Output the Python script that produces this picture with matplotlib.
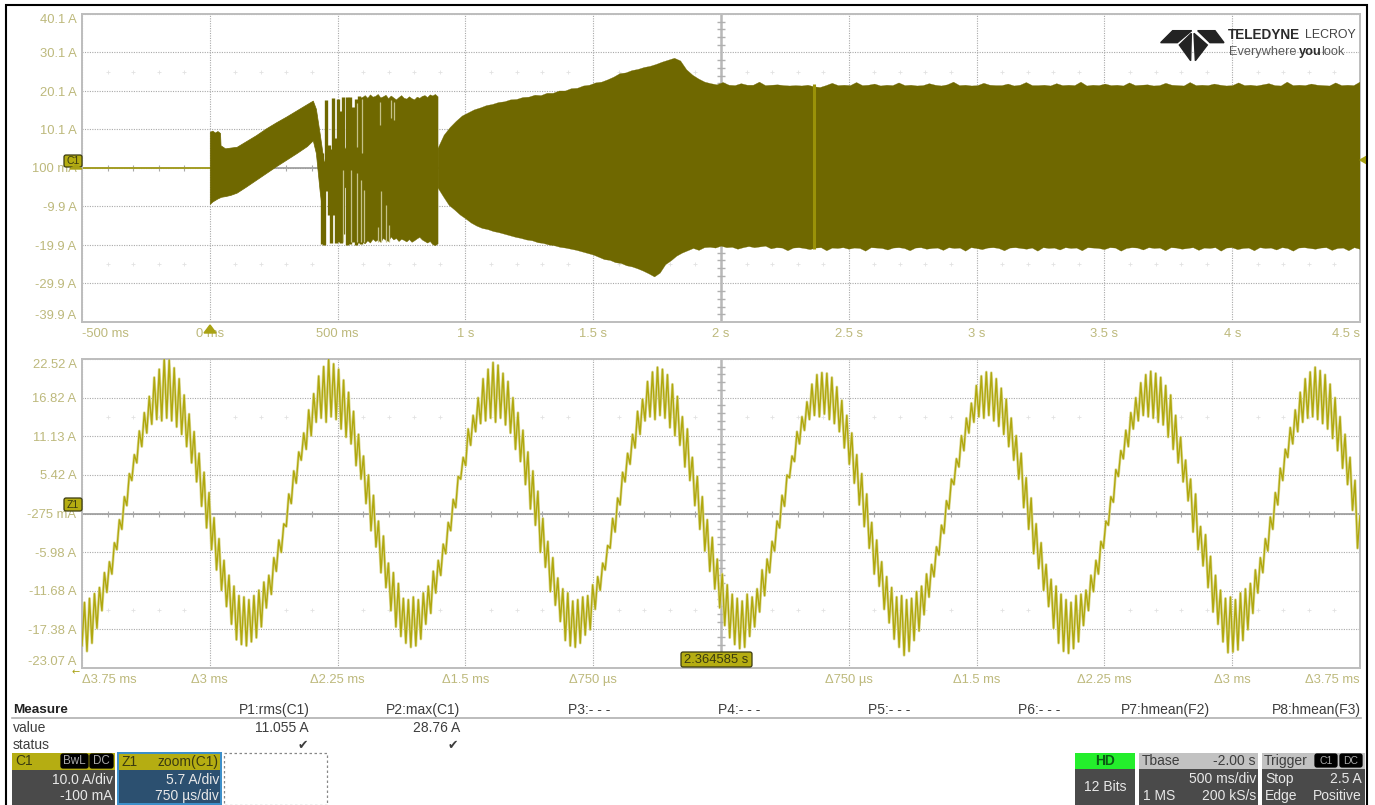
import matplotlib
matplotlib.use('Agg')
import matplotlib.pyplot as plt
from matplotlib.patches import FancyBboxPatch, Polygon, Rectangle
import numpy as np

plt.rcParams['font.family'] = ['Liberation Sans', 'DejaVu Sans']

# C1 acquisition, amps against seconds
y_ticks_c1 = [40.1, 30.1, 20.1, 10.1, 0.1, -9.9, -19.9, -29.9, -39.9]
y_labels_c1 = ['40.1 A', '30.1 A', '20.1 A', '10.1 A', '100 mA', '-9.9 A', '-19.9 A', '-29.9 A', '-39.9 A']
x_ticks_c1 = [-0.5, 0, 0.5, 1, 1.5, 2, 2.5, 3, 3.5, 4, 4.5]
x_labels_c1 = ['-500 ms', '0 ms', '500 ms', '1 s', '1.5 s', '2 s', '2.5 s', '3 s', '3.5 s', '4 s', '4.5 s']

idle_t = [-0.5, 0.0]
idle_a = [0.1, 0.1]

start_t = [0, .01, .02, .03, .04, .042, .06, .08, .105, .14, .18, .22, .26, .30, .34, .38, .403, .415, .43, .445]
start_up = [9.5, 9.8, 9.3, 9.7, 9.2, 6.0, 5.2, 5.4, 5.6, 7.0, 8.6, 10.4, 12.0, 13.5, 15.1, 16.7, 17.6, 15.5, 9.0, 2.0]
start_low = [-9.2, -8.6, -8.2, -7.8, -7.5, -7.4, -7.2, -6.9, -6.3, -4.8, -3.0, -1.2, .6, 2.3, 4.0, 5.8, 7.3, 4.0, -6.0, -14.0]

spike_t = [.438, .445, .456, .466, .474, .483, .492, .500, .512, .522, .535, .550, .561, .571, .584, .593]
spike_top = [4.0, 2.0, 17.8, 6.0, 5.0, 18.3, 8.0, 18.0, 15.0, 18.5, 18.5, 18.5, 16.0, 18.0, 18.7, 18.5]
spike_bot = [-19.6, -19.9, -6.0, -12.0, -19.5, -12.0, -19.3, -19.0, -19.5, -17.0, -19.8, -19.6, -19.0, -19.8, -19.5, -19.7]

core_t = [.47, .51, .55, .60]
core_up = [0.0, 3.0, 8.0, 18.0]
core_low = [-1.0, -4.0, -6.0, -12.0]

burst_up = [18.4, 18.9, 18.2, 19.1, 18.5, 18.7, 19.2, 18.3, 18.6, 19.0, 18.1, 18.8, 18.3, 17.8, 18.4, 18.9,
            18.2, 18.0, 18.6, 18.1, 17.8, 18.5, 18.2, 18.7, 18.9, 18.4, 19.1, 18.8, 19.2, 18.6]
burst_low = [-19.2, -19.6, -18.8, -19.4, -18.4, -19.0, -18.6, -19.2, -18.2, -18.7, -19.0, -17.8, -18.6, -18.2,
             -19.0, -18.4, -18.7, -19.1, -18.5, -19.2, -18.8, -18.3, -17.9, -18.6, -19.0, -19.4, -19.0, -19.8, -20.1, -19.6]

pale_t = [.577, .596, .665, .707, .72, .669, .691, .658, .702, .522, .554, .574, .593, .602]
pale_top = [17.0, 18.0, 17.3, 17.8, 17.3, -6.0, -9.5, -15.1, -14.7, -.4, -.4, -1.3, -3.0, -5.6]
pale_bot = [5.6, 3.9, 11.3, 13.0, 12.6, -19.0, -19.0, -19.0, -19.0, -19.0, -19.0, -19.0, -19.0, -19.0]

run_up = [5.2, 8.6, 10.6, 12.2, 13.6, 14.4, 15.2, 15.7, 16.3, 16.6, 17.1, 17.3, 17.8, 17.9, 18.4, 18.5, 19.0, 18.9,
          19.5, 19.5, 20.1, 20.1, 20.7, 20.8, 21.4, 21.6, 22.2, 22.4, 23.0, 23.7, 24.6, 24.8, 25.4, 25.7, 26.2, 26.5,
          27.0, 27.6, 28.1, 28.6, 27.9, 25.6, 24.2, 23.2, 22.4, 22.0,
          21.7, 22.3, 21.6, 21.5, 22.0, 21.6, 21.6, 22.4, 21.5, 21.6, 21.7, 21.5, 21.4, 21.5, 21.4, 21.6, 21.2, 21.0,
          21.5, 22.1, 21.5, 21.6, 21.5, 22.3, 21.5, 21.6, 21.9, 21.4, 21.6, 21.5, 22.2, 21.5, 21.6, 21.4, 21.5, 22.0,
          21.6, 21.4, 21.7, 22.4, 21.5, 21.6, 21.4, 21.5, 22.1, 21.6, 21.5, 21.5, 21.9, 21.4, 21.6, 22.3, 21.5, 21.5,
          21.6, 21.4, 22.0, 21.5, 21.6, 21.5, 22.4, 21.4, 21.6, 21.5, 21.9, 21.5, 21.6, 21.4, 22.2, 21.5, 21.6, 21.7,
          21.4, 21.5, 22.1, 21.6, 21.5, 21.4, 22.3, 21.5, 21.6, 21.5, 21.9, 21.6, 21.4, 21.5, 22.2, 21.5, 21.6, 21.4,
          21.7, 22.0, 21.5, 21.4, 22.4, 21.5, 21.6, 21.5, 21.9, 21.6, 21.5, 21.4, 22.2, 21.5, 21.6, 21.5, 22.4]
run_low = [-5.1, -7.4, -9.6, -10.8, -12.1, -13.1, -14.2, -15.0, -15.6, -15.9, -16.4, -16.7, -17.1, -17.5, -17.9, -18.2,
           -18.6, -18.8, -19.3, -19.5, -19.9, -20.1, -20.5, -20.7, -21.0, -21.3, -21.7, -22.1, -22.5, -23.1, -23.7,
           -23.9, -24.5, -24.7, -25.3, -25.6, -26.1, -26.7, -27.4, -28.2, -27.2, -25.0, -24.0, -22.8, -22.0, -21.4,
           -20.8, -21.3, -20.6, -20.5, -20.7, -20.2, -20.6, -20.5, -21.0, -20.6, -20.3, -20.6, -20.4, -20.2, -20.9, -20.6,
           -20.7, -21.4, -20.7, -20.6, -20.8, -21.1, -20.7, -20.6, -21.4, -20.7, -20.8, -20.6, -21.0, -20.7, -20.8, -21.5,
           -20.6, -20.7, -20.8, -21.2, -20.7, -20.6, -20.8, -21.4, -20.7, -20.6, -21.0, -20.8, -20.7, -21.3, -20.6, -20.8,
           -20.7, -21.5, -20.6, -20.8, -21.1, -20.7, -20.6, -20.8, -21.4, -20.7, -20.6, -20.8, -21.0, -20.7, -21.5, -20.6,
           -20.8, -20.7, -21.2, -20.6, -20.8, -20.7, -21.4, -20.6, -20.7, -20.8, -21.1, -20.6, -20.7, -21.5, -20.8, -20.6,
           -20.7, -21.2, -20.6, -20.8, -20.7, -21.4, -20.6, -20.7, -21.0, -20.8, -20.6, -21.3, -20.7, -20.8, -20.6, -21.5,
           -20.7, -20.6, -21.1, -20.8, -20.7, -21.4, -20.6, -20.8, -20.7, -21.2, -20.6, -20.8, -21.5, -20.7, -20.6, -20.8,
           -21.0, -20.7, -20.6, -21.3, -20.8, -20.7, -21.4, -20.6, -21.0]

zoom_center = 2.3646   # where Z1 sits on the C1 trace
zoom_mark = [21.9, -21.0]

# Z1 zoom, amps against ms, one row per mains period starting at a trough
y_ticks_z1 = [22.52, 16.82, 11.13, 5.42, -0.275, -5.98, -11.68, -17.38, -23.07]
y_labels_z1 = ['22.52 A', '16.82 A', '11.13 A', '5.42 A', '-275 mA', '-5.98 A', '-11.68 A', '-17.38 A', '-23.07 A']
x_ticks_z1 = [-3.75, -3, -2.25, -1.5, -0.75, 0, 0.75, 1.5, 2.25, 3, 3.75]
x_labels_z1 = ['Δ3.75 ms', 'Δ3 ms', 'Δ2.25 ms', 'Δ1.5 ms', 'Δ750 µs', '', 'Δ750 µs', 'Δ1.5 ms', 'Δ2.25 ms', 'Δ3 ms', 'Δ3.75 ms']

z1_amps = [
    -19.8, -13.4, -20.6, -12.8, -19.4, -12.1, -17.2, -11.2, -14.6, -9.0, -11.9, -7.4, -9.2, -4.6, -5.6, -1.2, -2.6, 2.2,
    0.9, 5.6, 4.6, 8.4, 7.2, 11.9, 9.6, 14.6, 11.6, 17.0, 12.9, 19.8, 13.6, 21.0, 13.4, 22.6,
    13.8, 22.4, 13.4, 21.2, 12.5, 19.6, 11.4, 17.2, 9.6, 14.4, 7.2, 11.8, 4.4, 8.6, 0.8, 5.8, -2.4, 2.8, -5.6, -0.9,
    -8.6, -4.0, -11.6, -7.2, -14.0, -9.4, -16.6, -11.0, -18.9, -12.4, -19.6, -12.6,

    -19.8, -13.0, -19.2, -12.4, -18.6, -11.6, -17.0, -10.4, -14.2, -9.4, -12.2, -6.8, -8.8, -4.2, -6.0, -1.8, -2.2, 2.6,
    1.2, 6.0, 4.2, 8.8, 7.6, 11.6, 9.2, 15.0, 11.2, 17.4, 13.2, 20.0, 13.8, 21.4, 13.2, 22.6,
    14.0, 21.8, 13.6, 21.0, 12.2, 19.4, 11.0, 17.6, 10.0, 14.8, 6.8, 11.4, 4.8, 8.2, 1.2, 5.4, -2.8, 2.4, -5.2, -1.4,
    -9.0, -3.6, -11.2, -7.6, -14.6, -9.0, -17.0, -10.6, -18.4, -12.8, -19.4, -13.0,

    -20.0, -12.6, -19.8, -13.0, -18.8, -12.0, -16.6, -11.0, -15.0, -8.8, -12.0, -7.2, -9.4, -4.8, -6.2, -1.6, -2.8, 1.8,
    0.6, 5.2, 4.8, 8.0, 6.8, 12.2, 9.8, 14.2, 11.8, 16.8, 13.0, 19.6, 13.4, 21.0, 13.8, 22.0,
    13.2, 21.6, 13.8, 20.4, 12.8, 19.2, 11.6, 16.8, 9.2, 14.6, 7.4, 12.0, 4.0, 8.8, 0.4, 6.0, -2.0, 3.0, -6.0, -1.0,
    -8.2, -4.4, -11.8, -6.8, -13.8, -9.8, -16.2, -11.4, -19.0, -12.0, -19.8, -13.2,

    -20.0, -13.0, -19.4, -12.6, -18.2, -12.4, -17.4, -10.8, -14.4, -9.6, -11.6, -7.6, -8.6, -5.0, -5.4, -1.0, -3.0, 2.0,
    1.0, 5.8, 4.4, 8.6, 7.0, 11.4, 9.4, 14.8, 11.4, 16.6, 13.4, 19.2, 14.0, 20.6, 13.6, 21.3,
    14.2, 21.0, 13.8, 20.2, 12.4, 18.8, 11.2, 17.0, 9.8, 14.0, 6.6, 12.2, 4.6, 8.0, 0.9, 5.2, -2.6, 2.2, -5.8, -1.2,
    -8.8, -3.8, -11.4, -7.0, -14.2, -9.2, -16.8, -10.8, -18.6, -12.2, -19.6, -12.8,

    -20.2, -13.2, -20.0, -12.2, -18.4, -12.6, -17.0, -11.4, -14.8, -8.6, -12.4, -7.0, -9.0, -4.4, -5.8, -1.4, -2.4, 2.4,
    0.8, 5.4, 5.0, 8.2, 7.4, 11.8, 10.0, 14.0, 12.0, 16.2, 13.6, 18.8, 14.2, 20.2, 14.0, 20.5,
    14.4, 20.4, 13.6, 19.8, 13.0, 18.4, 11.8, 16.4, 9.4, 14.2, 7.0, 11.6, 4.2, 8.4, 1.0, 5.6, -2.2, 2.6, -5.4, -1.6,
    -9.2, -4.2, -11.0, -7.4, -14.4, -9.6, -16.4, -11.2, -18.8, -12.6, -20.0, -12.4,

    -21.2, -13.0, -20.6, -12.8, -19.0, -11.8, -17.6, -11.0, -15.2, -9.2, -12.6, -7.8, -9.6, -5.2, -6.4, -2.0, -3.2, 1.6,
    0.4, 4.8, 4.0, 7.8, 6.6, 11.2, 9.0, 13.8, 11.6, 16.0, 13.2, 18.6, 14.0, 20.0, 13.8, 20.6,
    14.2, 20.5, 13.4, 19.6, 12.6, 18.2, 11.4, 16.6, 9.6, 13.8, 7.6, 11.2, 4.8, 8.6, 0.6, 5.0, -2.6, 2.0, -6.2, -1.8,
    -8.4, -4.6, -11.6, -7.8, -14.0, -10.0, -17.2, -11.0, -19.4, -12.2, -20.6, -13.0,

    -20.9, -13.4, -20.2, -12.4, -19.2, -12.2, -16.8, -11.6, -14.6, -9.4, -11.8, -7.2, -9.2, -4.4, -5.4, -1.4, -2.0, 2.2,
    1.4, 6.2, 5.2, 9.0, 7.8, 12.0, 9.6, 14.6, 12.2, 16.8, 13.4, 19.0, 14.2, 20.2, 14.0, 20.7,
    13.8, 20.4, 13.2, 19.8, 12.8, 18.6, 11.0, 17.2, 9.2, 14.2, 7.2, 11.0, 4.4, 7.6, 1.6, 4.8, -3.0, 2.6, -5.6, -2.2,
    -8.0, -3.4, -11.2, -6.6, -14.8, -9.4, -16.6, -11.6, -19.2, -12.8, -20.8, -12.6,

    -20.7, -13.0, -20.4, -12.0, -19.0, -11.4, -17.4, -10.6, -15.0, -8.6, -12.0, -6.8, -9.0, -4.0, -5.8, -0.8, -2.6, 2.8,
    1.0, 6.4, 4.6, 9.2, 8.0, 12.4, 10.0, 15.0, 11.8, 17.6, 13.2, 19.6, 13.8, 20.6, 14.0, 21.3,
    13.6, 20.8, 13.0, 20.2, 12.2, 18.8, 10.8, 16.8, 9.0, 14.0, 6.4, 11.4, 4.0, 8.0, 0.2, 4.6, -5.4, -0.6,
]

fig = plt.figure(figsize=(13.75, 8.05), dpi=100)
fig.patch.set_facecolor('white')
W, H = 1375.0, 805.0


def panel(top, bottom):
    a = fig.add_axes([82 / W, (H - bottom) / H, 1278 / W, (bottom - top) / H])
    for s in a.spines.values():
        s.set_color('#bdbdbd')
        s.set_linewidth(1.4)
    a.grid(True, color='#a9a9a9', lw=0.8, ls=(0, (1, 1.2)))
    a.set_axisbelow(True)
    a.tick_params(length=0, labelsize=9.4, labelcolor='#bdb97c', pad=4)
    return a


def dress(a, x_ticks, x_labels, y_ticks, y_labels):
    a.set_xlim(x_ticks[0], x_ticks[-1])
    a.set_ylim(y_ticks[-1], y_ticks[0])
    a.set_xticks(x_ticks, x_labels)
    a.set_yticks(y_ticks, y_labels)
    a.get_xticklabels()[0].set_ha('left')
    a.get_xticklabels()[-1].set_ha('right')
    a.get_yticklabels()[0].set_va('top')
    a.get_yticklabels()[-1].set_va('bottom')
    xdiv = x_ticks[1] - x_ticks[0]
    ydiv = y_ticks[0] - y_ticks[1]
    xc = x_ticks[5]
    yc = y_ticks[4]
    # centre cross with its small ticks, and the pale graticule crosses
    a.axhline(yc, color='#9a9a9a', lw=1.2, zorder=1)
    a.axvline(xc, color='#b8b8b8', lw=1.8, zorder=1)
    fine_x = [x_ticks[0] + xdiv * k / 5 for k in range(51) if k % 5 != 0]
    fine_y = [y_ticks[0] - ydiv * k / 5 for k in range(41) if k % 5 != 0]
    a.plot(fine_x, [yc] * len(fine_x), '|', color='#a8a8a8', ms=5, mew=0.8, zorder=1)
    a.plot([xc] * len(fine_y), fine_y, '_', color='#b0b0b0', ms=5.5, mew=1.0, zorder=1)
    for row in [1.5, 6.5]:
        a.plot(fine_x, [y_ticks[0] - ydiv * row] * len(fine_x), '+', color='#e2e2e2', ms=3.2, mew=0.6, zorder=1)


ax1 = panel(14, 322)
dress(ax1, x_ticks_c1, x_labels_c1, y_ticks_c1, y_labels_c1)
olive = '#6f6800'
ax1.plot(idle_t, idle_a, color='#a59d10', lw=1.2, zorder=2)
ax1.fill_between(start_t, start_low, start_up, color=olive, lw=0.5, zorder=3)
ax1.vlines(spike_t, spike_bot, spike_top, color=olive, lw=2.4, zorder=3)
ax1.fill_between(core_t, core_low, core_up, color=olive, lw=0, zorder=3)
burst_t = np.linspace(0.598, 0.893, len(burst_up))
burst_t2 = np.linspace(0.598, 0.893, len(burst_low))
ax1.fill(np.r_[burst_t, burst_t2[::-1]], np.r_[burst_up, burst_low[::-1]], color=olive, lw=0.3, zorder=3)
ax1.vlines(pale_t, pale_bot, pale_top, color='#c5c188', lw=0.9, zorder=4)
run_t = np.linspace(0.893, 4.5, len(run_up))
run_t2 = np.linspace(0.893, 4.5, len(run_low))
ax1.fill(np.r_[run_t, run_t2[::-1]], np.r_[run_up, run_low[::-1]], color=olive, lw=0.2, zorder=3)
ax1.vlines(zoom_center, zoom_mark[1], zoom_mark[0], color='#9a9208', lw=2.2, zorder=4)

ax2 = panel(359, 668)
dress(ax2, x_ticks_z1, x_labels_z1, y_ticks_z1, y_labels_z1)
z1_t = np.linspace(-3.75, 3.75, len(z1_amps))
# soft halo under the trace, the reference is a compressed screenshot
ax2.plot(z1_t, z1_amps, color='#dedb9c', lw=2.0, zorder=2)
ax2.plot(z1_t, z1_amps, color='#b0a80e', lw=1.0, zorder=3)

# everything around the two grids goes on one overlay in pixel coordinates
ov = fig.add_axes([0, 0, 1, 1], zorder=10)
ov.set_xlim(0, W)
ov.set_ylim(H, 0)
ov.axis('off')


def txt(x, y, s, ha='left', color='#3d3d3d', size=10, **kw):
    ov.text(x, y, s, ha=ha, va='center', color=color, fontsize=size, **kw)


def box(x0, y0, x1, y1, color, **kw):
    ov.add_patch(Rectangle((x0, y0), x1 - x0, y1 - y0, facecolor=color, edgecolor='none', **kw))


def tag(x0, y0, x1, y1, s, fc='#b5ad12', ec='#3a3a10', tc='#3a3a10', size=8.5):
    ov.add_patch(FancyBboxPatch((x0 + 2, y0 + 2), x1 - x0 - 4, y1 - y0 - 4, boxstyle='round,pad=2',
                                facecolor=fc, edgecolor=ec, lw=0.9))
    ov.text((x0 + x1) / 2, (y0 + y1) / 2, s, ha='center', va='center', color=tc, fontsize=size)


# instrument frame
ov.plot([6.5, 6.5, 1367.5, 1367.5], [805, 5, 5, 805], color='black', lw=1.5, solid_joinstyle='miter')

# markers on the grids
tag(64, 155, 82, 167, 'C1', size=7.5)
tag(64, 498, 82, 511, 'Z1', size=7.5)
tag(681, 652, 752, 667, '2.364585 s', size=9.4)
ov.add_patch(Polygon([(1360, 160), (1367, 156), (1367, 164)], color='#a9a213'))
ov.add_patch(Polygon([(204, 333), (216, 333), (210, 325)], color='#a9a213'))
ov.add_patch(Polygon([(70, 169), (82, 169), (76, 165)], color='#a9a213'))
txt(72, 672, '←', color='#a9a213', size=7, family=['DejaVu Sans'])

# logo
for pts in ([(182, 128), (218, 92), (275, 92), (232, 128)],
            [(293, 92), (345, 92), (372, 128), (330, 128)],
            [(274, 100), (238, 135), (272, 182)],
            [(282, 100), (322, 135), (286, 182)]):
    ov.add_patch(Polygon([(1100 + p[0] / 3, p[1] / 3) for p in pts], color='#232323'))
txt(1228, 35, 'TELEDYNE', color='#2b2b2b', size=9.8, fontweight='bold')
txt(1305, 35, 'LECROY', color='#444444', size=8.9)
txt(1229, 52, 'Everywhere', color='#5a5a5a', size=9.2)
txt(1299, 52, 'you', color='#2b2b2b', size=9.2, fontweight='bold')
txt(1321, 52, 'look', color='#5a5a5a', size=9.2)

# measurement table
txt(13, 710, 'Measure', fontweight='bold', color='#222222', size=9.7)
ov.plot([12, 1361], [718, 718], color='#b0b0b0', lw=1.2)
for xr, s in [(310, 'P1:rms(C1)'), (460, 'P2:max(C1)'), (610, 'P3:- - -'), (760, 'P4:- - -'), (910, 'P5:- - -'),
              (1060, 'P6:- - -'), (1210, 'P7:hmean(F2)'), (1361, 'P8:hmean(F3)')]:
    txt(xr, 710, s, ha='right')
txt(13, 728, 'value')
txt(13, 745, 'status')
txt(309, 728, '11.055 A', ha='right')
txt(460, 728, '28.76 A', ha='right')
txt(308, 745, '✔', ha='right', family=['DejaVu Sans'], size=9)
txt(458, 745, '✔', ha='right', family=['DejaVu Sans'], size=9)

# channel boxes
gold = '#b5ad12'
body = '#4a4a4a'
box(12, 753, 115, 770, gold)
box(12, 770, 115, 805, body)
txt(15, 761, 'C1', color='#3a3a10')
tag(61, 754, 88, 768, 'BwL', fc='black', ec='black', tc='#aaaaaa', size=8.4)
tag(90, 754, 113, 768, 'DC', fc='black', ec='black', tc='#aaaaaa', size=8.4)
txt(113, 780, '10.0 A/div', ha='right', color='#e8e8e8')
txt(113, 796, '-100 mA', ha='right', color='#e8e8e8')

box(117, 752, 222, 805, '#3d8fc9')
box(119, 754, 220, 770, gold)
box(119, 770, 220, 803, '#2c5070')
txt(122, 762, 'Z1', color='#3a3a10')
txt(219, 762, 'zoom(C1)', ha='right', color='#3a3a10')
txt(219, 780, '5.7 A/div', ha='right', color='#e8e8e8')
txt(219, 796, '750 µs/div', ha='right', color='#e8e8e8')

ov.add_patch(Rectangle((224, 753), 103, 52, facecolor='none', edgecolor='#888888', lw=0.9, ls=(0, (2, 2))))

box(1075, 753, 1135, 769, '#24ee2c')
box(1075, 769, 1135, 805, body)
txt(1105, 761, 'HD', ha='center', color='#0c5a14', fontweight='bold')
txt(1105, 787, '12 Bits', ha='center', color='#e8e8e8')

box(1139, 753, 1258, 769, '#c2c2c2')
box(1139, 769, 1258, 805, body)
txt(1142, 761, 'Tbase')
txt(1256, 761, '-2.00 s', ha='right')
txt(1256, 779, '500 ms/div', ha='right', color='#e8e8e8')
txt(1143, 796, '1 MS', color='#e8e8e8')
txt(1256, 796, '200 kS/s', ha='right', color='#e8e8e8')

box(1262, 753, 1365, 769, '#c2c2c2')
box(1262, 769, 1365, 805, body)
txt(1264, 761, 'Trigger')
tag(1315, 754, 1337, 767, 'C1', fc='black', ec='black', tc='#aaaaaa', size=7.5)
tag(1340, 754, 1362, 767, 'DC', fc='black', ec='black', tc='#aaaaaa', size=7.5)
txt(1265, 779, 'Stop', color='#e8e8e8')
txt(1362, 779, '2.5 A', ha='right', color='#e8e8e8')
txt(1265, 796, 'Edge', color='#e8e8e8')
txt(1362, 796, 'Positive', ha='right', color='#e8e8e8')

plt.savefig('out.png', dpi=100, facecolor='white')
